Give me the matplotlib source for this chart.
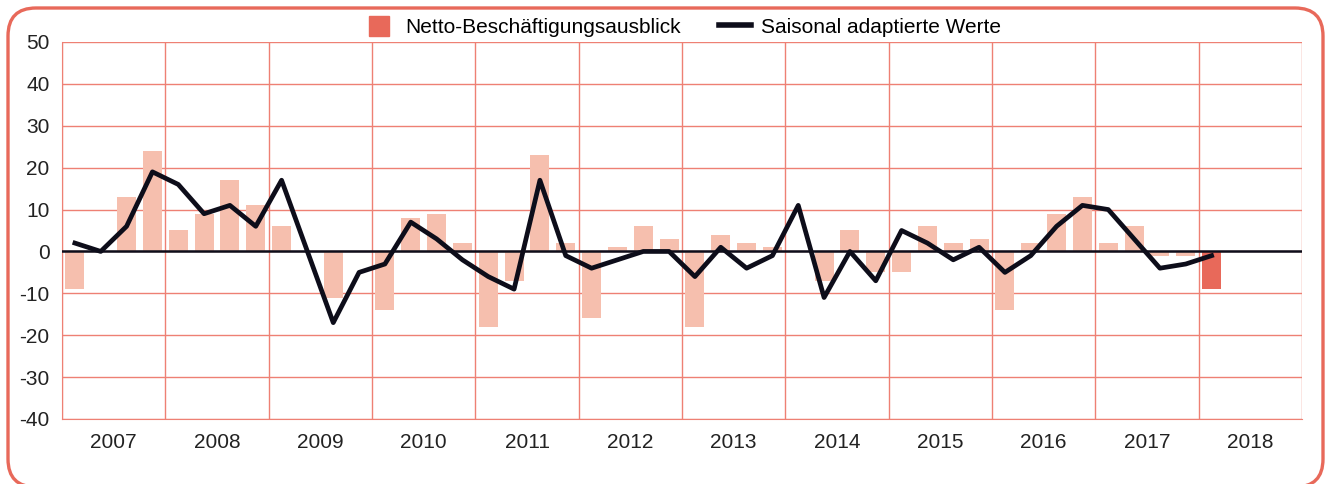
import matplotlib.pyplot as plt
from matplotlib.patches import FancyBboxPatch, Patch, Rectangle
from matplotlib.lines import Line2D
from matplotlib.legend_handler import HandlerPatch
from matplotlib.transforms import IdentityTransform

# quarterly values 2007 Q1 .. 2018 Q1
quarters = [f"{y} Q{q}" for y in range(2007, 2019) for q in range(1, 5)][:45]
netto = [-9, 0, 13, 24, 5, 9, 17, 11, 6, 0, -11, 0, -14, 8, 9, 2,
         -18, -7, 23, 2, -16, 1, 6, 3, -18, 4, 2, 1, 0, -7, 5, -5,
         -5, 6, 2, 3, -14, 2, 9, 13, 2, 6, -1, -1, -9]
saisonal = [2, 0, 6, 19, 16, 9, 11, 6, 17, 0, -17, -5, -3, 7, 3, -2,
            -6, -9, 17, -1, -4, -2, 0, 0, -6, 1, -4, -1, 11, -11, 0, -7,
            5, 2, -2, 1, -5, -1, 6, 11, 10, 3, -4, -3, -1]
years = list(range(2007, 2019))

red = '#E8695A'
light = '#F6BFAE'
grid_red = '#EE8074'
dark = '#0d0d1a'

plt.rcParams['font.family'] = ['Liberation Sans', 'DejaVu Sans']
plt.rcParams['axes.unicode_minus'] = False

fig = plt.figure(figsize=(13.26, 4.84), dpi=100)

# rounded frame (pixel coords, bottom edge just outside the picture)
frame = FancyBboxPatch((8, -3), 1315, 479,
                       boxstyle='round,pad=0,rounding_size=28',
                       transform=IdentityTransform(), facecolor='none',
                       edgecolor=red, linewidth=2.4)
fig.patches.append(frame)

ax = fig.add_axes([62 / 1326, 1 - 419 / 484, 1240 / 1326, 377 / 484])

x = list(range(len(netto)))
colors = [light] * (len(netto) - 1) + [red]
ax.bar(x, netto, width=0.73, color=colors, zorder=2)
ax.axhline(0, color=dark, linewidth=1.8, zorder=3)
ax.plot(x, saisonal, color=dark, linewidth=3.4, zorder=4)

ax.set_xlim(-0.5, 47.5)
ax.set_ylim(-40, 50)
ax.set_yticks(range(-40, 51, 10))
ax.set_xticks([-0.5 + 4 * k for k in range(13)])
ax.set_xticklabels([])
ax.set_xticks([1.5 + 4 * k for k in range(12)], minor=True)
ax.set_xticklabels([str(y) for y in years], minor=True)
ax.tick_params(axis='both', which='both', length=0, labelsize=15, colors='#222222')
ax.tick_params(axis='x', which='minor', pad=10)
ax.tick_params(axis='y', pad=9)
ax.grid(True, which='major', color=grid_red, linewidth=1, zorder=0)
ax.set_axisbelow(True)
for s in ax.spines.values():
    s.set_visible(False)
for side in ['left', 'bottom']:
    ax.spines[side].set_visible(True)
    ax.spines[side].set_color(grid_red)


def square_patch(legend, orig_handle, xdescent, ydescent, width, height, fontsize):
    return Rectangle((-xdescent + (width - height) / 2, -ydescent), height, height)


handles = [Patch(color=red, label='Netto-Beschäftigungsausblick'),
           Line2D([], [], color=dark, linewidth=4, label='Saisonal adaptierte Werte')]
ax.legend(handles=handles, loc='lower center', bbox_to_anchor=(0.5, 0.985), ncol=2,
          frameon=False, fontsize=15, handlelength=1.55, handleheight=1.1,
          columnspacing=1.8, handletextpad=0.5, borderaxespad=0.1,
          handler_map={Patch: HandlerPatch(patch_func=square_patch)})

fig.savefig('out.png', dpi=100)
